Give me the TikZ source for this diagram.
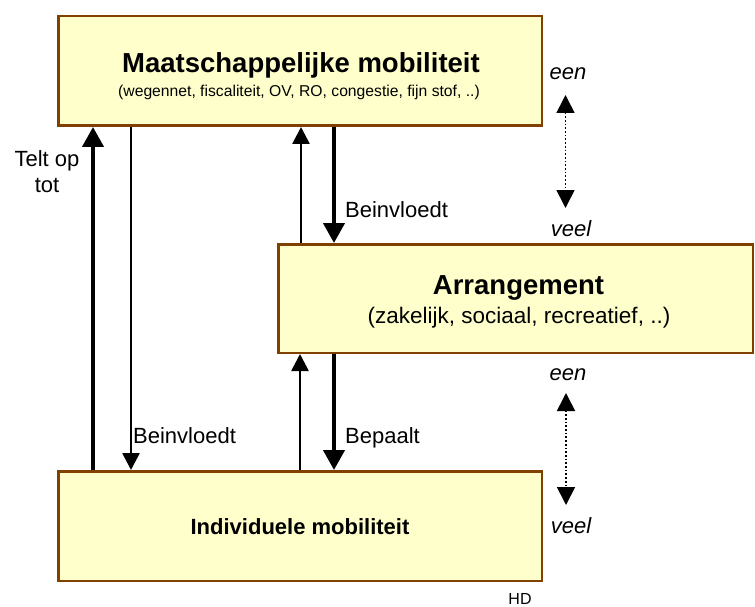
\documentclass[tikz,border=0pt]{standalone}
\usepackage{fontspec}
\setmainfont{Liberation Sans}
\usetikzlibrary{arrows.meta}
\definecolor{boxfill}{HTML}{FFFFCC}
\definecolor{boxline}{HTML}{804000}
\begin{document}
\begin{tikzpicture}[x=1pt,y=-1pt,
  box/.style={draw=boxline,fill=boxfill,line width=2.5pt,inner sep=0pt},
  thickarr/.style={line width=4.3pt,-{Triangle[width=21pt,length=20pt]}},
  thinarr/.style={line width=2.7pt,-{Triangle[width=17pt,length=17pt]}},
  dotarr/.style={line width=1.7pt,dash pattern=on 1.7pt off 2pt,{Triangle[width=18pt,length=18pt]}-{Triangle[width=18pt,length=18pt]}},
  title/.style={font=\fontsize{27.5}{30}\selectfont\bfseries,inner sep=0pt,anchor=base},
  lbl/.style={font=\fontsize{22}{26}\selectfont,inner sep=0pt,anchor=base west},
  qty/.style={font=\fontsize{22}{26}\selectfont\itshape,inner sep=0pt,anchor=base}]
\useasboundingbox (0,0) rectangle (755,607);
% boxes
\node[box,minimum width=483.5pt,minimum height=109.5pt] (top) at (300,71) {};
\node[box,minimum width=474.5pt,minimum height=108.5pt] (arr) at (515.5,298.5) {};
\node[box,minimum width=483.5pt,minimum height=109.5pt] (bot) at (300,526) {};
% box texts
\node[title] (toptitle) at (301,73) {Maatschappelijke mobiliteit};
\node[font=\fontsize{15.7}{18}\selectfont,inner sep=0pt,anchor=base] (topsub) at (299,97) {(wegennet, fiscaliteit, OV, RO, congestie, fijn stof, ..)};
\node[title] (arrtitle) at (518.5,294) {Arrangement};
\node[font=\fontsize{22.5}{26}\selectfont,inner sep=0pt,anchor=base] (arrsub) at (519,323) {(zakelijk, sociaal, recreatief, ..)};
\node[font=\fontsize{22}{24}\selectfont\bfseries,inner sep=0pt,anchor=base] (bottitle) at (300,534) {Individuele mobiliteit};
% x positions of connectors
\coordinate (xa) at (93,0);
\coordinate (xb) at (131,0);
\coordinate (xc) at (301,0);
\coordinate (xd) at (334,0);
\coordinate (xe) at (300,0);
% connectors
\draw[thickarr] (bot.north -| xa) -- (top.south -| xa);
\draw[thinarr] (top.south -| xb) -- (bot.north -| xb);
\draw[thinarr] (arr.north -| xc) -- (top.south -| xc);
\draw[thickarr] (top.south -| xd) -- (arr.north -| xd);
\draw[thinarr] (bot.north -| xe) -- (arr.south -| xe);
\draw[thickarr] (arr.south -| xd) -- (bot.north -| xd);
% labels
\node[font=\fontsize{22}{26}\selectfont,inner sep=0pt,anchor=base,align=center] (telt) at (47,193) {Telt op\\tot};
\node[lbl] (beinv1) at (345,217) {Beinvloedt};
\node[lbl] (beinv2) at (133,443) {Beinvloedt};
\node[lbl] (bepaalt) at (345,443) {Bepaalt};
% een / veel
\node[qty] (een1) at (568,80) {een};
\node[qty] (veel1) at (571,236) {veel};
\node[qty] (een2) at (568,380) {een};
\node[qty] (veel2) at (571,533) {veel};
\coordinate (d1a) at (565.5,95);
\coordinate (d1b) at (565.5,208);
\coordinate (d2a) at (566,393);
\coordinate (d2b) at (566,505);
\draw[dotarr] (d1a) -- (d1b);
\draw[dotarr] (d2a) -- (d2b);
% signature
\node[font=\fontsize{16}{18}\selectfont,inner sep=0pt,anchor=base] (hd) at (520,604) {HD};
\end{tikzpicture}
\end{document}
